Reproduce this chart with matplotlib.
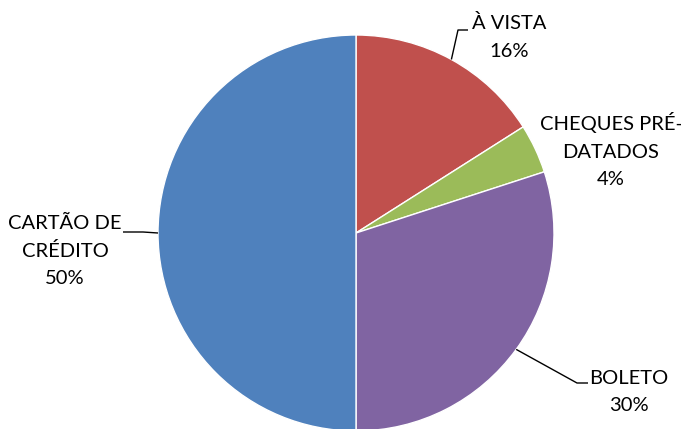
import numpy as np
import matplotlib
matplotlib.use("Agg")
import matplotlib.pyplot as plt

categories = ["À VISTA", "CHEQUES PRÉ-\nDATADOS", "BOLETO", "CARTÃO DE\nCRÉDITO"]
values = [16, 4, 30, 50]
colors = ["#C0504D", "#9BBB59", "#8064A2", "#4F81BD"]

W, H = 681, 429
fig = plt.figure(figsize=(W / 100, H / 100), dpi=100)
ax = fig.add_axes([0, 0, 1, 1])

cx, cy, r = 356, H - 233, 198
wedges, _ = ax.pie(values, colors=colors, startangle=90, counterclock=False,
                   center=(cx, cy), radius=r, frame=True,
                   wedgeprops=dict(edgecolor="white", linewidth=1))
ax.set_xlim(0, W)
ax.set_ylim(0, H)
ax.set_aspect("equal")
ax.axis("off")

FONT = ["Lato", "DejaVu Sans"]
FS = 14.5

# label text centres (image pixel coords, y down) and leader elbow points
label_pos = [(509, 37), (611, 150), (629, 392), (65, 251)]
elbows = [[(458, 30), (468, 30)], None, [(577, 383), (588, 383)], [(143, 232), (123, 232)]]

for w, cat, v, pos, elb in zip(wedges, categories, values, label_pos, elbows):
    ax.text(pos[0], H - pos[1], f"{cat}\n{v}%", ha="center", va="center",
            fontsize=FS, family=FONT, linespacing=1.72, color="black")
    if elb is not None:
        mid = np.deg2rad((w.theta1 + w.theta2) / 2)
        sx, sy = cx + r * np.cos(mid), cy + r * np.sin(mid)
        xs = [sx] + [p[0] for p in elb]
        ys = [sy] + [H - p[1] for p in elb]
        ax.plot(xs, ys, color="black", lw=1, solid_capstyle="butt")

fig.savefig("out.png", dpi=100, facecolor="white")
